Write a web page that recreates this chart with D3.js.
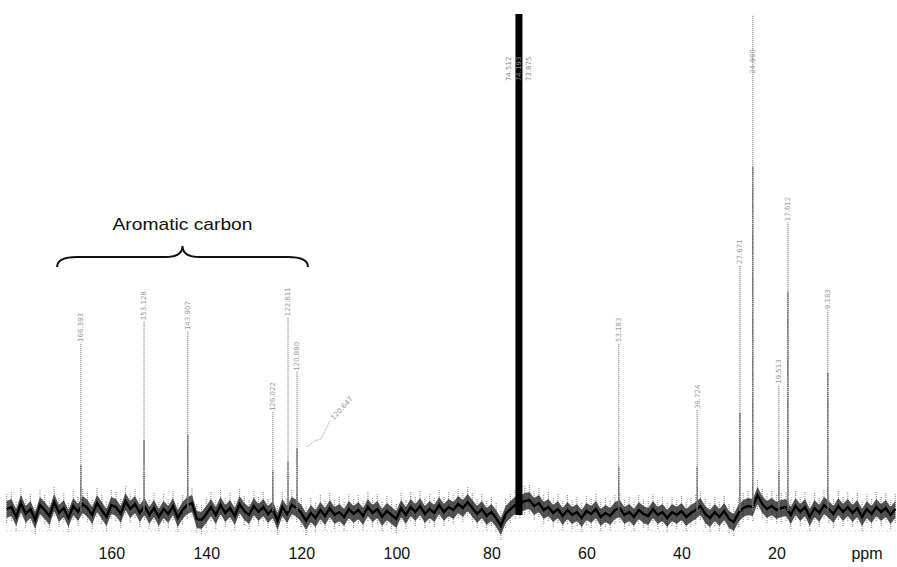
<!DOCTYPE html>
<html>
<head>
<meta charset="utf-8">
<script src="https://cdn.jsdelivr.net/npm/d3@7"></script>
<style>
  html, body { margin: 0; padding: 0; background: #fff; }
  svg { display: block; }
</style>
</head>
<body>
<div id="chart"></div>
<script>
// ppm axis tick labels
const ppmTicks = [160, 140, 120, 100, 80, 60, 40, 20];

// baseline noise, one value per ppm from 182 down to -5 (intensity units)
const noiseStart = 182;
const noise = [
  0.4,
  0.8, -1.2, 1.6, -0.6, 0.4, -1.8, 1.2, 0.2, -1.0, 1.8, -0.4, 0.6, -1.4, 1.0, -0.2, 1.4,
  0.6,
  -0.8, 1.6, 0.2, -1.2, 1.2, 0.8, -0.6, 2.0, 0.4, 1.4, -0.4, 1.0,
  -0.8, 0.6, -1.2, 0.4, -0.6, 1.0, -1.4, 0.2, 1.2,
  1.6, -1.6,
  -1.8, -0.6,
  0.8, -0.8, 1.2, -0.4, 0.6, -1.0, 1.4, 0.0, -0.8, 1.0, -0.2, 0.8, -0.6,
  0.4, -2.0, 0.8, -0.6, 1.2, 0.6, -0.4,
  -2.0, -0.4, -1.4, 0.2, -1.0, 0.6, -0.8, -0.2, -1.2, 0.4, -0.6, 0.2, -1.0, 0.8, -0.4, 0.4, -1.2, 0.0, -0.8,
  -1.6, 0.6, -0.8, 0.8, -0.2, 1.0, -0.6, 0.4, -0.4,
  1.2, -0.2, 0.8, 0.2, 1.4, 0.6, 1.8,
  0.6, -0.6, 0.4, -1.0, -0.2,
  -1.4, -3.0, -0.6, 0.4,
  1.2,
  1.4, 2.0,
  2.2, 1.0, 1.6, 0.2, 0.8, -0.4, 0.4,
  -1.0, 0.2, -0.8, -0.2, -1.4, 0.0, -0.6, 0.4, -1.2, -0.4, -1.0, 0.2,
  0.6, -0.8, -0.2, -1.2, 0.2, -0.6, -1.0, 0.4, -0.8, -0.2, -1.4, -0.2, -0.8, 0.0, -1.2, -0.4, 0.2,
  1.0, -0.6,
  -1.4, -0.2, -1.2, 0.0, -1.6, -2.2,
  -0.4, 0.6, 1.0,
  0.8, 3.2, 1.4, 0.4, 1.0, 0.2,
  0.6, 0.8,
  -0.8, 1.0, -0.2, 0.8, -1.2, 0.6, -0.4, 1.2, 0.4,
  -0.6, 1.0, -0.2, 0.8, -0.4, 0.6, -1.2, 0.4, -0.6, 0.8, -0.2, 0.6, -0.8, 0.4
];

// labelled peaks
const peakPpm   = [166.4, 153.1, 143.9, 126.0, 122.8, 120.9, 53.2, 36.7, 27.7, 25.0, 19.5, 17.6, 9.2];
const peakTop   = [33.8, 38.2, 36.2, 19.9, 39.0, 28.0, 33.8, 20.3, 49.5, 99.8, 25.4, 58.1, 40.4];
const peakDark  = [9.3, 14.3, 15.3, 8.2, 9.9, 12.7, 8.9, 8.9, 19.7, 69.2, 8.2, 44.1, 27.8];
const peakLabel = ['166.393', '153.128', '143.907', '126.022', '122.811', '120.880',
                   '53.183', '36.724', '27.671', '24.990', '19.513', '17.612', '9.183'];

// solvent peak
const solventPpm = 74.2;
const solventTop = 100;
const solventLabels = ['74.512', '74.193', '73.875'];

// extra angled label on the 120.9 ppm peak
const angledLabel = '120.647';

// bracket over the aromatic region
const aromaticRange = [171.4, 118.6];
const aromaticText = 'Aromatic carbon';

const W = 897, H = 567;
const svg = d3.select('#chart').append('svg')
  .attr('width', W).attr('height', H)
  .style('font-family', '"Liberation Sans", Arial, sans-serif');

svg.append('rect').attr('width', W).attr('height', H).attr('fill', '#fff');

const x = d3.scaleLinear().domain([182, -5]).range([6.7, 895.3]);
const y = d3.scaleLinear().domain([0, 100]).range([511, 14]);

// faint dotted line under the trace
svg.append('line')
  .attr('x1', x(182)).attr('x2', x(-5))
  .attr('y1', y(0) + 20).attr('y2', y(0) + 20)
  .attr('stroke', '#bbb').attr('stroke-width', 1)
  .attr('stroke-dasharray', '1,3');

// noise
const noiseData = noise.map((v, i) => ({ ppm: noiseStart - i, v }));

// grey hairs round each noise point
svg.selectAll('.hair')
  .data(noiseData)
  .join('line')
  .attr('class', 'hair')
  .attr('x1', d => x(d.ppm)).attr('x2', d => x(d.ppm))
  .attr('y1', d => y(d.v) - 15).attr('y2', d => y(d.v) + 15)
  .attr('stroke', '#999').attr('stroke-width', 1.2)
  .attr('stroke-dasharray', '1,1');

svg.append('path')
  .datum(noiseData)
  .attr('d', d3.area().x(d => x(d.ppm)).y0(d => y(d.v) + 9).y1(d => y(d.v) - 8))
  .attr('fill', '#1a1a1a').attr('opacity', 0.75);

svg.append('path')
  .datum(noiseData)
  .attr('d', d3.line().x(d => x(d.ppm)).y(d => y(d.v)))
  .attr('fill', 'none').attr('stroke', '#000').attr('stroke-width', 2.4);

// peaks
const peaks = peakPpm.map((p, i) => ({ ppm: p, top: peakTop[i], dark: peakDark[i], label: peakLabel[i] }));

svg.selectAll('.peak-gray')
  .data(peaks)
  .join('line')
  .attr('class', 'peak-gray')
  .attr('x1', d => x(d.ppm)).attr('x2', d => x(d.ppm))
  .attr('y1', y(0)).attr('y2', d => y(d.top))
  .attr('stroke', '#a4a4a4').attr('stroke-width', 1.4)
  .attr('stroke-dasharray', '1.2,0.8');

svg.selectAll('.peak-dark')
  .data(peaks)
  .join('line')
  .attr('class', 'peak-dark')
  .attr('x1', d => x(d.ppm)).attr('x2', d => x(d.ppm))
  .attr('y1', y(0)).attr('y2', d => y(d.dark))
  .attr('stroke', '#666').attr('stroke-width', 1.5)
  .attr('stroke-dasharray', '1.5,0.6');

// label end sits just above the peak, tall peaks get it lower on the line
const labelEnd = d => (d.top > 80 ? y(88) : y(d.top) - 1);

svg.selectAll('.peak-label')
  .data(peaks)
  .join('text')
  .attr('class', 'peak-label')
  .attr('transform', d => `translate(${x(d.ppm)},${labelEnd(d)}) rotate(-90)`)
  .attr('dy', '0.35em')
  .style('font-family', '"DejaVu Sans", sans-serif')
  .style('font-size', '7px')
  .attr('fill', '#999')
  .text(d => d.label);

// angled label with leader
const ap = peaks[5];
const ax0 = x(ap.ppm) + 10, ay0 = y(ap.dark) - 1;
svg.append('path')
  .attr('d', `M${ax0},${ay0} l8,-6 l6,-2 l9,-18`)
  .attr('fill', 'none').attr('stroke', '#aaa').attr('stroke-width', 1)
  .attr('stroke-dasharray', '1.5,1');
svg.append('text')
  .attr('transform', `translate(${ax0 + 25},${ay0 - 28}) rotate(-48)`)
  .attr('dy', '0.35em')
  .style('font-family', '"DejaVu Sans", sans-serif')
  .style('font-size', '7px')
  .attr('fill', '#999')
  .text(angledLabel);

// solvent peak
svg.append('line')
  .attr('x1', x(solventPpm)).attr('x2', x(solventPpm))
  .attr('y1', y(0) + 4).attr('y2', y(solventTop))
  .attr('stroke', '#000').attr('stroke-width', 7);

svg.selectAll('.solv-label')
  .data(solventLabels)
  .join('text')
  .attr('class', 'solv-label')
  .attr('transform', (d, i) => `translate(${x(solventPpm) + (i - 1) * 10},${y(86.5)}) rotate(-90)`)
  .attr('dy', '0.35em')
  .style('font-family', '"DejaVu Sans", sans-serif')
  .style('font-size', '7px')
  .attr('fill', '#888')
  .text(d => d);

// aromatic bracket
const bx1 = x(aromaticRange[0]), bx2 = x(aromaticRange[1]);
const bm = (bx1 + bx2) / 2;
const yEnd = y(49.1), yBar = y(51.1), yTip = y(53.3);
svg.append('path')
  .attr('d', `M${bx1},${yEnd} Q${bx1},${yBar} ${bx1 + 20},${yBar} L${bm - 17},${yBar} ` +
             `Q${bm},${yBar} ${bm},${yTip} Q${bm},${yBar} ${bm + 17},${yBar} ` +
             `L${bx2 - 20},${yBar} Q${bx2},${yBar} ${bx2},${yEnd}`)
  .attr('fill', 'none').attr('stroke', '#111').attr('stroke-width', 2);

svg.append('text')
  .attr('x', bm).attr('y', y(56.6))
  .attr('text-anchor', 'middle')
  .attr('textLength', 140).attr('lengthAdjust', 'spacingAndGlyphs')
  .style('font-size', '17px')
  .attr('fill', '#111')
  .text(aromaticText);

// axis
const axis = svg.append('g')
  .attr('transform', `translate(0,545)`)
  .call(d3.axisBottom(x).tickValues(ppmTicks).tickSize(0).tickPadding(3));
axis.select('.domain').remove();
axis.selectAll('text')
  .style('font-family', '"Liberation Sans", Arial, sans-serif')
  .style('font-size', '16px')
  .attr('fill', '#111');

svg.append('text')
  .attr('x', 867).attr('y', 559)
  .attr('text-anchor', 'middle')
  .style('font-size', '16px')
  .attr('fill', '#111')
  .text('ppm');
</script>
</body>
</html>
